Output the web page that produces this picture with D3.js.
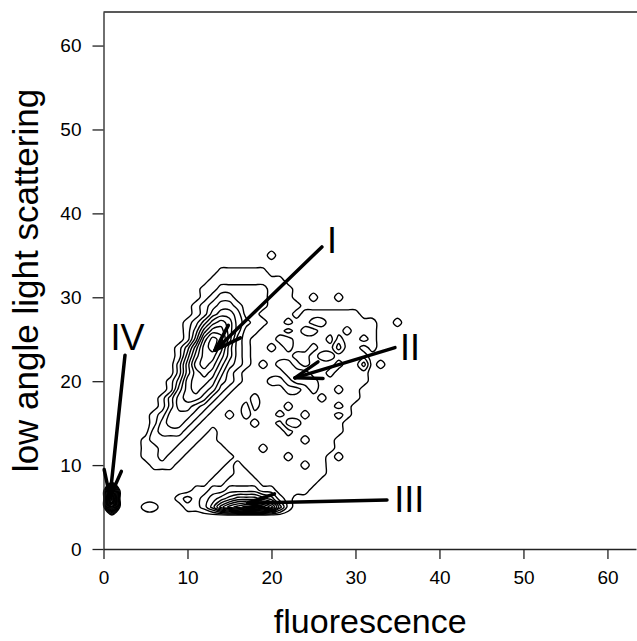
<!DOCTYPE html>
<html lang="en">
<head>
<meta charset="utf-8">
<title>low angle light scattering vs fluorescence</title>
<script src="https://cdnjs.cloudflare.com/ajax/libs/d3/7.8.5/d3.min.js"></script>
<style>
  body { margin: 0; background: #fff; }
  svg text { font-family: "Liberation Sans", Arial, Helvetica, sans-serif; fill: #000; }
  .axis path, .axis line { stroke: #222; stroke-width: 1.3; }
  .axis text { font-size: 19px; }
</style>
</head>
<body>
<script>
// counts per channel, one char per cell (0-9, a=10, b=11, c=12)
// columns: fluorescence 0..40, rows: scattering 36 (top) .. 0 (bottom)
const gridRows = [
  "0000000000 0000000000 0000000000 0000000000 0", // 36
  "0000000000 0000000000 1000000000 0000000000 0", // 35
  "0000000000 0000000000 0000000000 0000000000 0", // 34
  "0000000000 0000111111 0000000000 0000000000 0", // 33
  "0000000000 0001111111 1100000000 0000000000 0", // 32
  "0000000000 0011222222 1110000000 0000000000 0", // 31
  "0000000000 0012332222 1110010010 0000000000 0", // 30
  "0000000000 0123443222 1111000000 0000000000 0", // 29
  "0000000000 0124554221 1110111111 1000000000 0", // 28
  "0000000000 1246764322 1121100111 1110010000 0", // 27
  "0000000000 1368864221 1101221110 1110000000 0", // 26
  "0000000000 148a963211 1221111021 1210000000 0", // 25
  "0000000001 369a853211 0121101131 1010000000 0", // 24
  "0000000001 4799753211 1110012211 1100000000 0", // 23
  "0000000002 5898643210 1221011101 1301000000 0", // 22
  "0000000002 5787532111 1122211011 1100000000 0", // 21
  "0000000013 6776432111 0012221111 1100000000 0", // 20
  "0000000014 6765321111 1100121101 1000000000 0", // 19
  "0000000135 6653211101 1111110111 1000000000 0", // 18
  "0000000135 5432111201 1101111101 0000000000 0", // 17
  "0000001244 4321101211 1211011121 0000000000 0", // 16
  "0000001344 3211111101 1022111110 0000000000 0", // 15
  "0000002333 2110111111 1101111110 0000000000 0", // 14
  "0000012222 1100111111 1111211100 0000000000 0", // 13
  "0000011221 1000011110 1111111100 0000000000 0", // 12
  "0000011211 0000001111 1121111010 0000000000 0", // 11
  "0000001110 0000012111 1111011000 0000000000 0", // 10
  "0000000000 0000112211 1111111000 0000000000 0", // 9
  "0000000000 0001122221 1111110000 0000000000 0", // 8
  "0900000000 0112233332 2111100000 0000000000 0", // 7
  "0c00000001 2123456665 4210000000 0000000000 0", // 6
  "0a00011000 112479abba 8410000000 0000000000 0", // 5
  "0000000000 0000000000 0000000000 0000000000 0", // 4
  "0000000000 0000000000 0000000000 0000000000 0", // 3
  "0000000000 0000000000 0000000000 0000000000 0", // 2
  "0000000000 0000000000 0000000000 0000000000 0", // 1
  "0000000000 0000000000 0000000000 0000000000 0"  // 0
];
const contourLevels = [0.5, 1.5, 2.5, 3.5, 4.5, 5.5, 6.5, 7.5, 8.5, 9.5, 10.5, 11.5];

const xTicks = [0, 10, 20, 30, 40, 50, 60];
const yTicks = [0, 10, 20, 30, 40, 50, 60];

// population labels and their arrows (data units)
const arrowNames = ["I", "II", "III", "IV"];
const arrowFrom = [[26.0, 36.0], [34.7, 24.0], [33.75, 5.84], [2.56, 23.1]];
const arrowTo   = [[13.3, 23.7], [22.8, 20.4], [17.2, 5.48], [0.77, 6.2]];
const labelPos  = [[27.2, 35.3], [36.5, 22.5], [36.4, 4.4], [2.86, 23.7]];

const W = 637, H = 641;
const svg = d3.select("body").append("svg")
    .attr("width", W)
    .attr("height", H);

const xScale = d3.scaleLinear().domain([0, 63.4]).range([103.5, 636]);
const yScale = d3.scaleLinear().domain([0, 64]).range([549, 12]);

// grid -> flat values, row 0 = scattering 0
const nx = 41;
const rows = gridRows.map(r => r.replace(/\s/g, "")).reverse();
const ny = rows.length;
const values = new Array(nx * ny).fill(0);
rows.forEach((r, j) => {
  for (let i = 0; i < nx && i < r.length; i++) values[j * nx + i] = parseInt(r[i], 36);
});

const contours = d3.contours()
    .size([nx, ny])
    .thresholds(contourLevels)(values);

// cell value i sits at coordinate i + 0.5 in contour space; rings drawn as smooth closed curves
const ringLine = d3.line().curve(d3.curveCatmullRomClosed.alpha(0.5));
const toPath = c => c.coordinates
    .flatMap(poly => poly.map(ring =>
        ringLine(ring.slice(0, -1).map(p => [xScale(p[0] - 0.5), yScale(p[1] - 0.5)]))))
    .join("");

svg.append("g")
  .selectAll("path")
  .data(contours)
  .join("path")
    .attr("d", toPath)
    .attr("fill", "none")
    .attr("stroke", "#000")
    .attr("stroke-width", 1.4)
    .attr("stroke-linejoin", "round");

// axes
svg.append("g")
    .attr("class", "axis")
    .attr("transform", "translate(0," + yScale(0) + ")")
    .call(d3.axisBottom(xScale).tickValues(xTicks).tickSize(10).tickSizeOuter(0).tickPadding(12));

svg.append("g")
    .attr("class", "axis")
    .attr("transform", "translate(" + xScale(0) + ",0)")
    .call(d3.axisLeft(yScale).tickValues(yTicks).tickSize(11).tickSizeOuter(0).tickPadding(11));

// top frame line
svg.append("line")
    .attr("x1", xScale(0)).attr("x2", W)
    .attr("y1", yScale(64)).attr("y2", yScale(64))
    .attr("stroke", "#222")
    .attr("stroke-width", 1.3);

// axis titles
svg.append("text")
    .attr("x", (xScale(0) + W) / 2)
    .attr("y", 633)
    .attr("text-anchor", "middle")
    .style("font-size", "34px")
    .text("fluorescence");

svg.append("text")
    .attr("transform", "translate(38," + (yScale(0) + yScale(64)) / 2 + ") rotate(-90)")
    .attr("text-anchor", "middle")
    .style("font-size", "35px")
    .text("low angle light scattering");

// arrows
const barbLen = 28, barbAng = 18 * Math.PI / 180;
const arrows = svg.append("g")
    .attr("stroke", "#000")
    .attr("stroke-width", 3.5)
    .attr("stroke-linecap", "round")
    .attr("fill", "none");

arrowNames.forEach((name, k) => {
  const x1 = xScale(arrowFrom[k][0]), y1 = yScale(arrowFrom[k][1]);
  const x2 = xScale(arrowTo[k][0]), y2 = yScale(arrowTo[k][1]);
  const a = Math.atan2(y1 - y2, x1 - x2);
  arrows.append("line")
      .attr("x1", x1).attr("y1", y1)
      .attr("x2", x2).attr("y2", y2);
  [a - barbAng, a + barbAng].forEach(b => {
    arrows.append("line")
        .attr("x1", x2).attr("y1", y2)
        .attr("x2", x2 + barbLen * Math.cos(b))
        .attr("y2", y2 + barbLen * Math.sin(b));
  });
  svg.append("text")
      .attr("x", xScale(labelPos[k][0]))
      .attr("y", yScale(labelPos[k][1]))
      .attr("text-anchor", "middle")
      .style("font-size", "36px")
      .text(name);
});
</script>
</body>
</html>
